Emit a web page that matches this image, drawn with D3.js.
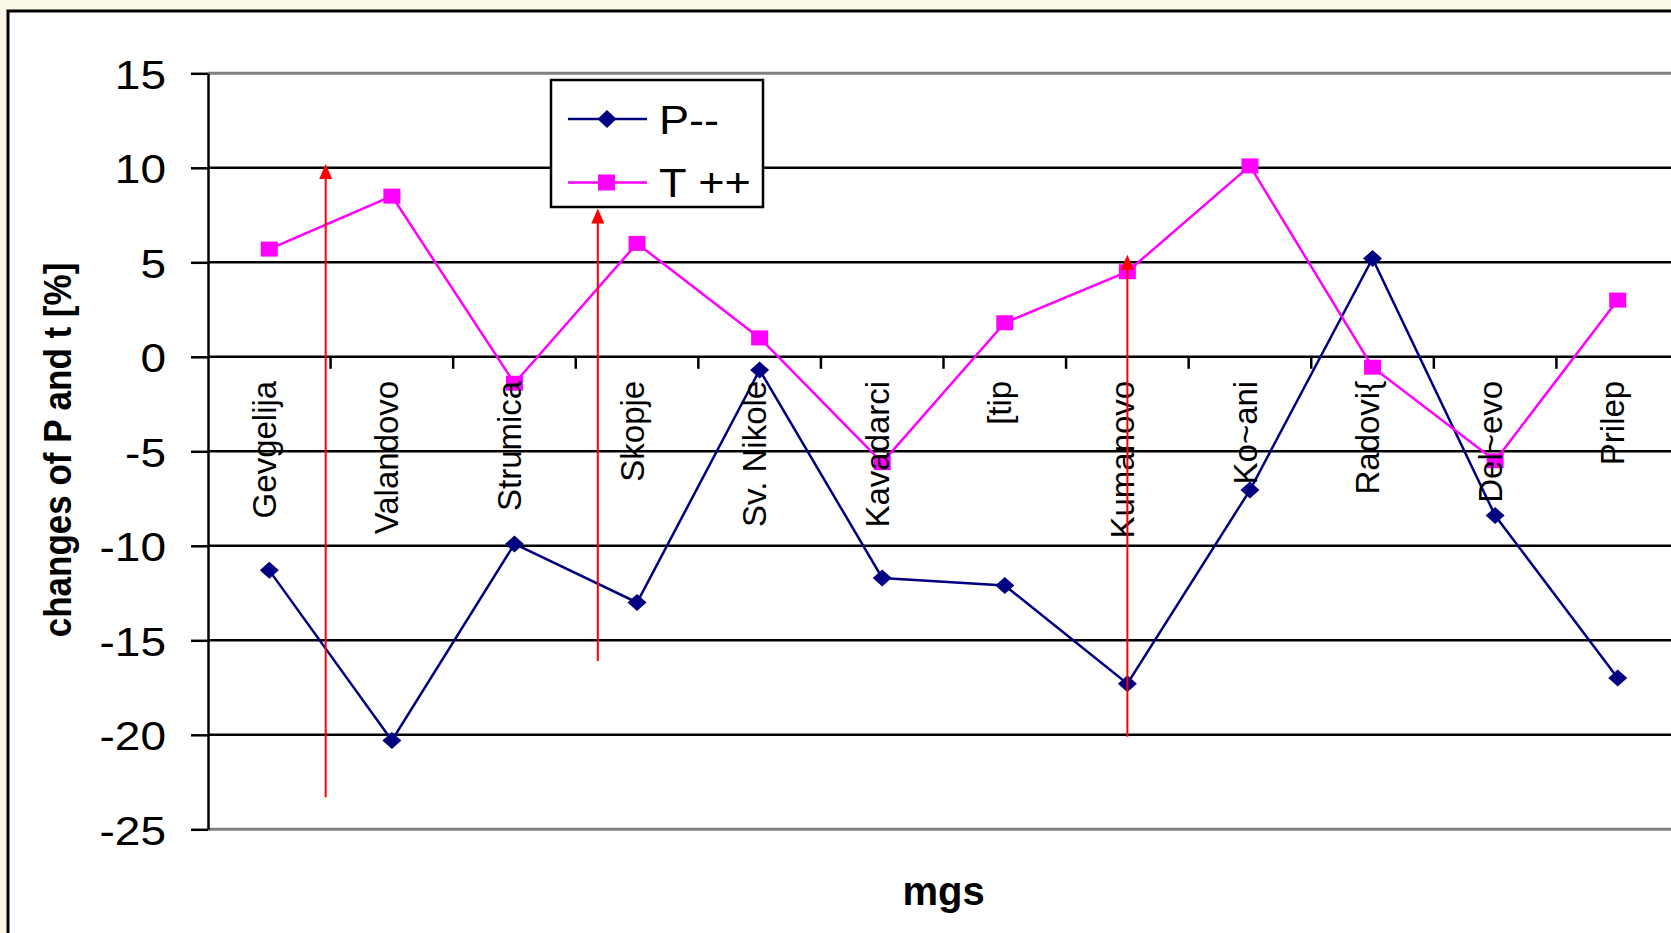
<!DOCTYPE html>
<html>
<head>
<meta charset="utf-8">
<script src="https://cdn.jsdelivr.net/npm/d3@7"></script>
<style>
  body { margin: 0; background: #faf7e4; }
  svg { display: block; }
  text { font-family: "Liberation Sans", Arial, sans-serif; fill: #000; }
</style>
</head>
<body>
<div id="plot"></div>
<script>
const WIDTH = 1671;
const HEIGHT = 933;

// data
const categories = ["Gevgelija", "Valandovo", "Strumica", "Skopje", "Sv. Nikole", "Kavadarci",
                    "[tip", "Kumanovo", "Ko~ani", "Radovi{", "Del~evo", "Prilep"];
const pValues = [-11.3, -20.3, -9.9, -13.0, -0.7, -11.7, -12.1, -17.3, -7.05, 5.2, -8.4, -17.0];
const tValues = [5.7, 8.5, -1.4, 6.0, 1.0, -5.6, 1.8, 4.5, 10.1, -0.55, -5.5, 3.0];
const yTicks = [-25, -20, -15, -10, -5, 0, 5, 10, 15];
const seriesNames = ["P--", "T ++"];

// red arrows: position in category units, tip value, foot value
const arrowPos = [0.46, 2.68, 7.0];
const arrowTop = [10.2, 7.85, 5.4];
const arrowBottom = [-23.3, -16.1, -20.1];

const svg = d3.select("#plot")
  .append("svg")
    .attr("width", WIDTH)
    .attr("height", HEIGHT);

// cream page + chart frame
svg.append("rect").attr("width", WIDTH).attr("height", HEIGHT).attr("fill", "#faf7e4");
svg.append("rect")
  .attr("x", 8).attr("y", 11)
  .attr("width", 1700).attr("height", 1000)
  .attr("fill", "#fff")
  .attr("stroke", "#000")
  .attr("stroke-width", 3);

const x = d3.scaleBand().domain(categories).range([208, 1679]).padding(0);
const xIdx = d3.scaleLinear().domain([-0.5, categories.length - 0.5]).range([208, 1679]);
const y = d3.scaleLinear().domain([-25, 15]).range([829.3, 73.3]);
const cx = (d) => x(d) + x.bandwidth() / 2;

// gridlines
svg.append("g")
  .selectAll("line")
  .data(yTicks)
  .enter()
  .append("line")
    .attr("x1", 208).attr("x2", WIDTH)
    .attr("y1", (d) => y(d)).attr("y2", (d) => y(d))
    .attr("stroke", (d) => (d === 15 || d === -25) ? "#808080" : "#000")
    .attr("stroke-width", (d) => (d === 15 || d === -25) ? 3 : 2.5);

// y axis
const yAxis = svg.append("g")
  .attr("transform", "translate(208,0)")
  .call(d3.axisLeft(y).tickValues(yTicks).tickSize(17).tickSizeOuter(0).tickFormat((d) => String(d)));
yAxis.select(".domain").attr("stroke", "#000").attr("stroke-width", 2.5);
yAxis.selectAll(".tick line").attr("stroke", "#000").attr("stroke-width", 2.5);
yAxis.selectAll(".tick text")
  .attr("font-size", "40px")
  .attr("font-family", "Liberation Sans, Arial, sans-serif")
  .attr("x", -42 / 1.15)
  .attr("dy", "0.37em")
  .attr("transform", "scale(1.15,1)");

// category ticks on the zero line
svg.append("g")
  .selectAll("line")
  .data(categories.slice(1))
  .enter()
  .append("line")
    .attr("x1", (d) => x(d)).attr("x2", (d) => x(d))
    .attr("y1", y(0)).attr("y2", y(0) + 12)
    .attr("stroke", "#000")
    .attr("stroke-width", 2.5);

// series lines
const line = d3.line()
  .x((d, i) => cx(categories[i]))
  .y((d) => y(d));

svg.append("path")
  .datum(pValues)
  .attr("d", line)
  .attr("fill", "none")
  .attr("stroke", "#000080")
  .attr("stroke-width", 2.5);

svg.append("path")
  .datum(tValues)
  .attr("d", line)
  .attr("fill", "none")
  .attr("stroke", "#ff00ff")
  .attr("stroke-width", 2.5);

const diamond = "M0,-8.5L9.5,0L0,8.5L-9.5,0Z";

svg.append("g")
  .selectAll("path")
  .data(pValues)
  .enter()
  .append("path")
    .attr("d", diamond)
    .attr("transform", (d, i) => "translate(" + cx(categories[i]) + "," + y(d) + ")")
    .attr("fill", "#000080");

svg.append("g")
  .selectAll("rect")
  .data(tValues)
  .enter()
  .append("rect")
    .attr("x", (d, i) => cx(categories[i]) - 8.5)
    .attr("y", (d) => y(d) - 7.5)
    .attr("width", 17).attr("height", 15)
    .attr("fill", "#ff00ff");

// category labels, rotated
svg.append("g")
  .selectAll("text")
  .data(categories)
  .enter()
  .append("text")
    .attr("transform", (d) => "translate(" + cx(d) + "," + (y(0) + 24) + ") rotate(-90)")
    .attr("text-anchor", "end")
    .attr("dy", "0.2em")
    .attr("font-size", "33px")
    .text((d) => d);

// axis titles
svg.append("text")
  .attr("transform", "translate(71,450) rotate(-90) scale(1,1.1)")
  .attr("text-anchor", "middle")
  .attr("font-size", "35px")
  .attr("font-weight", "bold")
  .text("changes of P and t [%]");

svg.append("text")
  .attr("x", (208 + 1679) / 2)
  .attr("y", 905)
  .attr("text-anchor", "middle")
  .attr("font-size", "40px")
  .attr("font-weight", "bold")
  .text("mgs");

// legend
const legend = svg.append("g");
legend.append("rect")
  .attr("x", 551).attr("y", 80)
  .attr("width", 212).attr("height", 127)
  .attr("fill", "#fff")
  .attr("stroke", "#000")
  .attr("stroke-width", 2.5);

const legendColors = ["#000080", "#ff00ff"];
const legendY = [119, 182.5];
const legendRows = legend.selectAll("g.row")
  .data(seriesNames)
  .enter()
  .append("g")
    .attr("class", "row")
    .attr("transform", (d, i) => "translate(0," + legendY[i] + ")");

legendRows.append("line")
  .attr("x1", 568).attr("x2", 647)
  .attr("stroke", (d, i) => legendColors[i])
  .attr("stroke-width", 2.5);

legendRows.filter((d, i) => i === 0).append("path")
  .attr("d", "M0,-9L9.5,0L0,9L-9.5,0Z")
  .attr("transform", "translate(607,0)")
  .attr("fill", legendColors[0]);

legendRows.filter((d, i) => i === 1).append("rect")
  .attr("x", 598).attr("y", -8)
  .attr("width", 17).attr("height", 16)
  .attr("fill", legendColors[1]);

legendRows.append("text")
  .attr("transform", "translate(659,0) scale(1.1,1)")
  .attr("dy", "0.36em")
  .attr("font-size", "41px")
  .text((d) => d);

// red arrows
const arrows = svg.append("g")
  .selectAll("g")
  .data(arrowPos)
  .enter()
  .append("g");

arrows.append("line")
  .attr("x1", (d) => xIdx(d)).attr("x2", (d) => xIdx(d))
  .attr("y1", (d, i) => y(arrowBottom[i]))
  .attr("y2", (d, i) => y(arrowTop[i]) + 10)
  .attr("stroke", "#ff0000")
  .attr("stroke-width", 2);

arrows.append("path")
  .attr("d", "M0,0L6.5,15L-6.5,15Z")
  .attr("transform", (d, i) => "translate(" + xIdx(d) + "," + y(arrowTop[i]) + ")")
  .attr("fill", "#ff0000");
</script>
</body>
</html>
